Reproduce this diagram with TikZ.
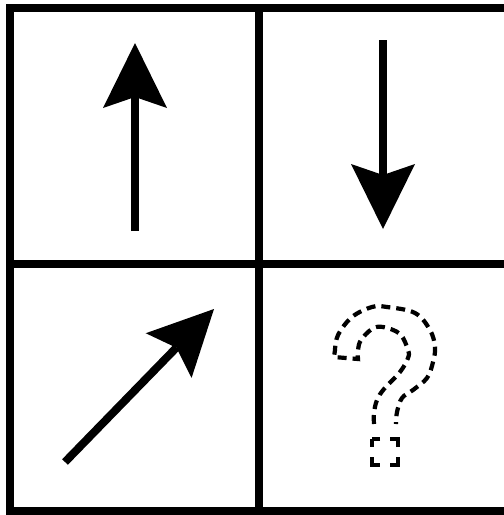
\documentclass[tikz,border=0pt]{standalone}
\usetikzlibrary{arrows.meta}
\tikzset{
  gridline/.style={line width=8pt},
  bigarrow/.style={line width=8pt, -{Stealth[length=65pt,width=64pt,inset=11pt,line width=0pt]}},
  qline/.style={line width=4.2pt, dash pattern=on 9pt off 6pt},
}
\begin{document}
\begin{tikzpicture}[x=1pt,y=-1pt]
\useasboundingbox (0,0) rectangle (504,515);
\clip (0,0) rectangle (504,515);
% grid
\draw[gridline] (9.5,7.5) rectangle (520,511);
\draw[gridline] (258.5,7.5) -- (258.5,511);
\draw[gridline] (9.5,263.5) -- (520,263.5);
% arrows
\draw[bigarrow] (135,231) -- (135,43);
\draw[bigarrow] (383,40) -- (383,229);
\draw[bigarrow] (65,462) -- (214,309);
% question mark
\draw[qline] plot[smooth,tension=0.6] coordinates {(374,424) (374,413) (377,400) (384,389) (400,372) (408,358) (408,350) (400,334) (383,327) (372,329) (361,340) (358,350) (358,359)}
  -- (334,357) -- plot[smooth,tension=0.6] coordinates {(335,350) (338,335) (352,317) (372,307) (387,307) (415,313) (430,330) (435,347) (433,362) (427,378) (413,390) (402,398) (397,412) (396,424)};
\draw[line width=4.2pt, dash pattern=on 16pt off 10pt, dash phase=8pt] (372,439) rectangle (398,465);
\end{tikzpicture}
\end{document}
